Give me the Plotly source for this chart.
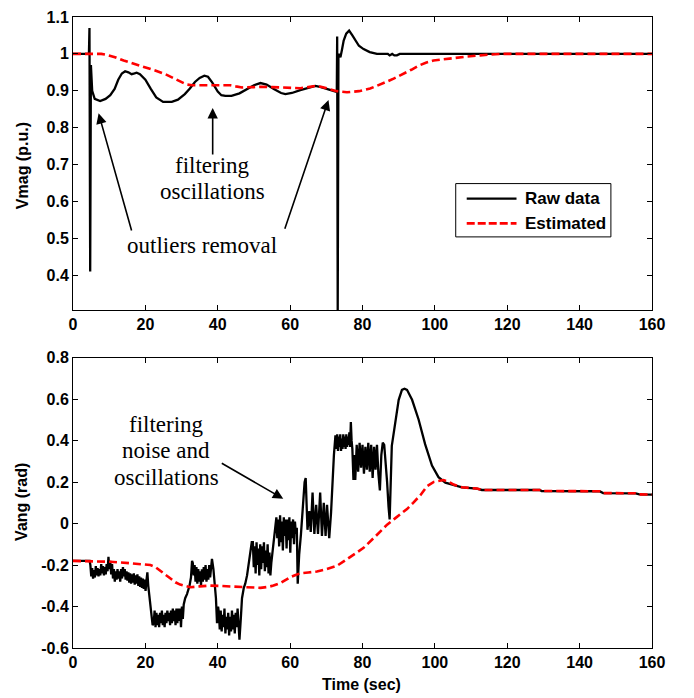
import numpy as np
import plotly.graph_objects as go

# ---------------- top panel: voltage magnitude ----------------
vmag_raw_t = [0, 4.4, 4.55, 4.75, 4.95, 5.3, 6.0, 7.5, 9.0, 10.3, 11.5, 12.5, 13.5, 14.4, 15.3, 16.2,
              17.0, 17.6, 18.5, 20.0, 21.5, 23.0, 24.9, 27.3, 29.0, 30.9, 32.3, 33.7, 35.0, 36.3,
              37.3, 38.5, 40.0, 41.0, 42.1, 43.8, 46.0, 48.0, 50.0, 51.8, 53.5, 55.5, 57.5, 58.7,
              60.5, 62.8, 65.0, 67.0, 68.5, 70.5, 72.5, 72.9, 73.0, 73.15, 73.35, 73.9, 74.3, 74.8,
              75.5, 76.3, 77.2, 78.0, 79.0, 80.3, 82.0, 84.0, 87.0, 87.5, 88.2, 88.8, 89.5, 90.3, 160]
vmag_raw_v = [1.0, 1.0, 1.07, 0.41, 0.97, 0.90, 0.878, 0.872, 0.878, 0.888, 0.905, 0.93, 0.947, 0.953,
              0.950, 0.945, 0.947, 0.949, 0.945, 0.93, 0.905, 0.882, 0.870, 0.870, 0.876, 0.891, 0.906,
              0.924, 0.935, 0.941, 0.938, 0.922, 0.898, 0.888, 0.886, 0.886, 0.893, 0.904, 0.915,
              0.921, 0.917, 0.905, 0.894, 0.891, 0.894, 0.902, 0.908, 0.913, 0.910, 0.904, 0.898,
              0.897, 1.047, 0.30, 1.00, 0.991, 1.01, 1.036, 1.055, 1.063, 1.05, 1.036, 1.022, 1.013,
              1.005, 1.0, 1.0, 0.996, 1.0, 0.996, 0.996, 1.0, 1.0]

vmag_est_t = [0, 7.8, 9.5, 11.6, 14.0, 17.1, 20.0, 22.7, 25.5, 28.2, 30.0, 31.4, 33.0, 43.5, 45.0,
              46.7, 50.0, 52.0, 55.0, 60.0, 62.8, 65.0, 67.0, 68.5, 70.5, 72.9, 75.7, 79.0, 82.1,
              84.5, 86.8, 88.6, 91.4, 93.5, 95.5, 97.5, 99.6, 102.5, 106.1, 109.0, 112.5, 115.0,
              118.0, 160]
vmag_est_v = [1.0, 1.0, 0.997, 0.991, 0.982, 0.973, 0.964, 0.955, 0.945, 0.933, 0.923, 0.917, 0.915,
              0.915, 0.912, 0.909, 0.910, 0.911, 0.910, 0.908, 0.907, 0.910, 0.913, 0.911, 0.905,
              0.899, 0.896, 0.899, 0.906, 0.915, 0.925, 0.933, 0.946, 0.957, 0.968, 0.976, 0.982,
              0.986, 0.990, 0.993, 0.996, 0.998, 1.0, 1.0]

# ---------------- bottom panel: voltage angle ----------------
vang_t0 = [0.0, 4.6]
vang_v0 = [-0.18, -0.18]
vang_band1_span = [4.8, 20.8]
vang_band1 = [-0.20, -0.255, -0.215, -0.265, -0.225, -0.26, -0.205, -0.25, -0.215, -0.255, -0.22, -0.25,
              -0.195, -0.24, -0.205, -0.25, -0.21, -0.245, -0.195, -0.23, -0.16, -0.22, -0.18,
              -0.245, -0.195, -0.265, -0.22, -0.28, -0.23, -0.27, -0.22, -0.265, -0.23, -0.28,
              -0.22, -0.265, -0.21, -0.255, -0.22, -0.27, -0.23, -0.275, -0.235, -0.285, -0.24,
              -0.29, -0.245, -0.285, -0.24, -0.295, -0.25, -0.29, -0.245, -0.30, -0.255, -0.305,
              -0.26, -0.31, -0.265, -0.315, -0.27, -0.325, -0.275, -0.235, -0.30]
vang_t1 = [21.2, 21.6, 22.0]
vang_v1 = [-0.36, -0.44, -0.49]
vang_band2_span = [22.3, 30.6]
vang_band2 = [-0.48, -0.42, -0.50, -0.43, -0.49, -0.44, -0.50, -0.43, -0.48, -0.42, -0.49, -0.44,
              -0.50, -0.43, -0.48, -0.42, -0.47, -0.43, -0.49, -0.42, -0.48, -0.41, -0.47, -0.42,
              -0.49, -0.41, -0.48, -0.41, -0.47, -0.41, -0.50, -0.40, -0.46, -0.39]
vang_t2 = [31.0, 31.5, 32.2, 32.6, 32.9]
vang_v2 = [-0.36, -0.34, -0.30, -0.26, -0.18]
vang_band3_span = [33.1, 38.4]
vang_band3 = [-0.19, -0.25, -0.20, -0.28, -0.21, -0.29, -0.22, -0.28, -0.23, -0.30, -0.22, -0.28,
              -0.21, -0.27, -0.20, -0.28, -0.22, -0.27, -0.20, -0.26, -0.19, -0.17]
vang_t3 = [38.8, 39.2, 39.5, 39.8, 40.1]
vang_v3 = [-0.22, -0.30, -0.36, -0.48, -0.40]
vang_band4_span = [40.3, 46.0]
vang_band4 = [-0.43, -0.51, -0.42, -0.52, -0.44, -0.50, -0.41, -0.53, -0.45, -0.51, -0.43, -0.54,
              -0.45, -0.52, -0.42, -0.51, -0.44, -0.53, -0.43, -0.50, -0.41, -0.49, -0.56]
vang_t4 = [46.4, 46.7, 47.2, 47.6, 48.1, 48.5, 49.0, 49.4]
vang_v4 = [-0.45, -0.36, -0.31, -0.29, -0.25, -0.20, -0.15, -0.09]
vang_band5_span = [49.7, 54.8]
vang_band5 = [-0.09, -0.21, -0.11, -0.24, -0.09, -0.20, -0.12, -0.25, -0.10, -0.22, -0.11, -0.19,
              -0.09, -0.23, -0.13, -0.21, -0.10, -0.24, -0.14, -0.25, -0.19]
vang_t5 = [55.2, 55.6, 56.0]
vang_v5 = [-0.12, -0.04, 0.02]
vang_band6_span = [56.2, 62.1]
vang_band6 = [0.03, -0.07, 0.02, -0.11, 0.04, -0.09, 0.01, -0.13, 0.03, -0.06, 0.02, -0.12, 0.02,
              -0.08, 0.03, -0.14, 0.01, -0.07, 0.02, -0.10, 0.01, -0.05, -0.02, -0.29]
vang_t6 = [62.5, 63.0, 63.5, 64.0, 64.3, 64.8, 65.3, 65.7, 66.2, 66.7, 67.2, 67.7, 68.3, 68.8, 69.3,
           69.8, 70.2, 70.8, 71.3, 71.7, 72.1, 72.5]
vang_v6 = [-0.15, -0.05, 0.10, 0.20, 0.22, -0.03, 0.06, -0.04, 0.15, -0.05, 0.09, -0.05, 0.15, -0.06,
           0.10, -0.06, 0.09, -0.07, 0.05, 0.20, 0.33, 0.42]
vang_band7_span = [72.6, 77.2]
vang_band7 = [0.42, 0.36, 0.43, 0.35, 0.42, 0.37, 0.43, 0.35, 0.41, 0.36, 0.43, 0.37, 0.42, 0.36,
              0.43, 0.37, 0.42, 0.38, 0.44, 0.37, 0.49, 0.40, 0.36]
vang_t7 = [77.5, 77.8, 78.0, 78.4, 78.8, 79.2, 79.6, 80.0, 80.4, 80.8, 81.2, 81.6, 82.0, 82.4, 82.8,
           83.2, 83.6, 84.0, 84.4, 84.8, 85.2, 85.6, 86.0, 86.4, 86.8, 87.2, 87.5, 88.1, 89.1, 90.0,
           90.9, 91.6, 92.3, 93.7, 95.5, 97.3, 99.2, 101.0, 102.9, 105.2]
vang_v7 = [0.21, 0.33, 0.21, 0.38, 0.25, 0.39, 0.27, 0.38, 0.24, 0.37, 0.26, 0.39, 0.25, 0.38, 0.22,
           0.37, 0.26, 0.38, 0.24, 0.16, 0.33, 0.39, 0.38, 0.30, 0.20, 0.08, 0.02, 0.375, 0.50, 0.597,
           0.645, 0.65, 0.645, 0.597, 0.502, 0.383, 0.28, 0.224, 0.197, 0.186]

vang_est_t = [0, 10.3, 15.8, 19.5, 21.4, 22.8, 24.1, 25.5, 26.9, 28.3, 29.6, 31.0, 32.4, 35.0, 37.9,
              41.0, 45.3, 48.5, 51.8, 54.0, 55.4, 57.5, 60.0, 61.5, 62.8, 65.0, 67.4, 70.0, 72.9,
              75.0, 77.5, 80.3, 83.5, 86.8, 89.0, 92.3, 94.0, 96.0, 97.8, 99.7, 102.4, 104.0, 105.2]
vang_est_v = [-0.18, -0.184, -0.191, -0.196, -0.20, -0.21, -0.227, -0.247, -0.267, -0.283, -0.294,
              -0.302, -0.307, -0.303, -0.299, -0.301, -0.304, -0.308, -0.310, -0.305, -0.299, -0.285,
              -0.259, -0.248, -0.240, -0.236, -0.231, -0.220, -0.204, -0.18, -0.15, -0.117, -0.063,
              -0.005, 0.025, 0.07, 0.10, 0.137, 0.18, 0.201, 0.21, 0.20, 0.188]

# common settled tail (both curves coincide)
vang_tail_t = [106.1, 107.5, 110.0, 111.6, 113.0, 129.0, 129.5, 145.5, 146.5, 155.5, 156.5, 160.0]
vang_tail_v = [0.182, 0.175, 0.171, 0.169, 0.162, 0.162, 0.157, 0.156, 0.147, 0.146, 0.141, 0.140]

x_ticks = [0, 20, 40, 60, 80, 100, 120, 140, 160]
vmag_ticks = [0.4, 0.5, 0.6, 0.7, 0.8, 0.9, 1.0, 1.1]
vmag_ticktext = ["0.4", "0.5", "0.6", "0.7", "0.8", "0.9", "1", "1.1"]
vang_ticks = [-0.6, -0.4, -0.2, 0, 0.2, 0.4, 0.6, 0.8]
vang_ticktext = ["-0.6", "-0.4", "-0.2", "0", "0.2", "0.4", "0.6", "0.8"]
legend_names = ["Raw data", "Estimated"]

# ---------------- assemble bottom raw series ----------------
pieces_t = [vang_t0]
pieces_v = [vang_v0]
for span, band, t_next, v_next in [
    (vang_band1_span, vang_band1, vang_t1, vang_v1),
    (vang_band2_span, vang_band2, vang_t2, vang_v2),
    (vang_band3_span, vang_band3, vang_t3, vang_v3),
    (vang_band4_span, vang_band4, vang_t4, vang_v4),
    (vang_band5_span, vang_band5, vang_t5, vang_v5),
    (vang_band6_span, vang_band6, vang_t6, vang_v6),
    (vang_band7_span, vang_band7, vang_t7, vang_v7),
]:
    pieces_t.append(list(np.linspace(span[0], span[1], len(band))))
    pieces_v.append(band)
    pieces_t.append(t_next)
    pieces_v.append(v_next)
pieces_t.append(vang_tail_t)
pieces_v.append(vang_tail_v)
vang_raw_t = [t for p in pieces_t for t in p]
vang_raw_v = [v for p in pieces_v for v in p]

vang_est_full_t = vang_est_t + vang_tail_t
vang_est_full_v = vang_est_v + vang_tail_v

RAW = dict(color="black", width=2.3)
EST = dict(color="#ff0000", width=2.6, dash="8px,4px")

fig = go.Figure()
fig.add_trace(go.Scatter(x=vmag_raw_t, y=vmag_raw_v, mode="lines", line=RAW, name=legend_names[0],
                         xaxis="x", yaxis="y", showlegend=False))
fig.add_trace(go.Scatter(x=vmag_est_t, y=vmag_est_v, mode="lines", line=EST, name=legend_names[1],
                         xaxis="x", yaxis="y", showlegend=False))
fig.add_trace(go.Scatter(x=vang_raw_t, y=vang_raw_v, mode="lines", line=RAW, name=legend_names[0],
                         showlegend=False, xaxis="x2", yaxis="y2"))
fig.add_trace(go.Scatter(x=vang_est_full_t, y=vang_est_full_v, mode="lines", line=EST,
                         name=legend_names[1], showlegend=False, xaxis="x2", yaxis="y2"))

TICKFONT = dict(family="Liberation Sans, Arial, sans-serif", size=16, color="black", weight="bold")
axis_common = dict(showline=True, linecolor="black", linewidth=1, mirror="ticks", ticks="inside",
                   ticklen=5, tickwidth=1, tickcolor="black", showgrid=False, zeroline=False,
                   tickfont=TICKFONT)

fig.update_layout(
    width=694, height=698,
    margin=dict(l=73, r=42, t=9, b=50),
    plot_bgcolor="white", paper_bgcolor="white",
    xaxis=dict(domain=[0, 1], anchor="y", range=[0, 160], tickvals=x_ticks, **axis_common),
    yaxis=dict(domain=[0.5352, 1.0], anchor="x", range=[0.305, 1.1], tickvals=vmag_ticks,
               ticktext=vmag_ticktext, **axis_common),
    xaxis2=dict(domain=[0, 1], anchor="y2", range=[0, 160], tickvals=x_ticks, **axis_common),
    yaxis2=dict(domain=[0, 0.4601], anchor="x2", range=[-0.6, 0.8], tickvals=vang_ticks,
                ticktext=vang_ticktext, **axis_common),
    showlegend=False,
)

LABELFONT = dict(family="Liberation Sans, Arial, sans-serif", size=16, color="black", weight="bold")
LEGFONT = dict(family="Liberation Sans, Arial, sans-serif", size=17, color="black", weight="bold")
SERIF = dict(family="Liberation Serif, Times New Roman, serif", size=23, color="black")

annotations = [
    dict(text="Vmag (p.u.)", x=-0.088, y=0.7637, xref="paper", yref="paper", textangle=-90,
         showarrow=False, font=LABELFONT, xanchor="center", yanchor="middle"),
    dict(text="Vang (rad)", x=-0.088, y=0.2316, xref="paper", yref="paper", textangle=-90,
         showarrow=False, font=LABELFONT, xanchor="center", yanchor="middle"),
    dict(text="Time (sec)", x=0.499, y=-0.058, xref="paper", yref="paper",
         showarrow=False, font=LABELFONT, xanchor="center", yanchor="middle"),
    # top panel texts
    dict(text="filtering", x=38.6, y=0.698, xref="x", yref="y", showarrow=False, font=SERIF),
    dict(text="oscillations", x=38.6, y=0.628, xref="x", yref="y", showarrow=False, font=SERIF),
    dict(text="outliers removal", x=35.6, y=0.480, xref="x", yref="y", showarrow=False, font=SERIF),
    # bottom panel texts
    dict(text="filtering", x=25.8, y=0.479, xref="x2", yref="y2", showarrow=False, font=SERIF),
    dict(text="noise and", x=25.8, y=0.351, xref="x2", yref="y2", showarrow=False, font=SERIF),
    dict(text="oscillations", x=25.8, y=0.224, xref="x2", yref="y2", showarrow=False, font=SERIF),
    # legend labels
    dict(text=legend_names[0], x=0.777, y=0.7121, xref="paper", yref="paper", showarrow=False,
         font=LEGFONT, xanchor="left", yanchor="middle"),
    dict(text=legend_names[1], x=0.777, y=0.6729, xref="paper", yref="paper", showarrow=False,
         font=LEGFONT, xanchor="left", yanchor="middle"),
]
arrows = [
    # (tip_x, tip_y, tail_x, tail_y, xref, yref)
    (38.6, 0.853, 38.6, 0.723, "x", "y"),
    (7.07, 0.839, 16.3, 0.517, "x", "y"),
    (70.6, 0.875, 58.4, 0.522, "x", "y"),
    (58.1, 0.120, 40.7, 0.295, "x2", "y2"),
]
for tx, ty, ax_, ay_, xr, yr in arrows:
    annotations.append(dict(text="", x=tx, y=ty, ax=ax_, ay=ay_, xref=xr, yref=yr, axref=xr,
                            ayref=yr, showarrow=True, arrowhead=2, arrowsize=1.3, arrowwidth=1.6,
                            arrowcolor="black", standoff=0))

shapes = [
    dict(type="rect", xref="paper", yref="paper", x0=0.661, x1=0.929, y0=0.6515, y1=0.736,
         line=dict(color="black", width=1), fillcolor="white", layer="above"),
    dict(type="line", xref="paper", yref="paper", x0=0.680, x1=0.766, y0=0.7121, y1=0.7121,
         line=dict(color="black", width=2.3), layer="above"),
    dict(type="line", xref="paper", yref="paper", x0=0.680, x1=0.766, y0=0.6729, y1=0.6729,
         line=dict(color="#ff0000", width=2.6, dash="8px,3px"), layer="above"),
]
fig.update_layout(annotations=annotations, shapes=shapes)

fig.write_html("out.html")
